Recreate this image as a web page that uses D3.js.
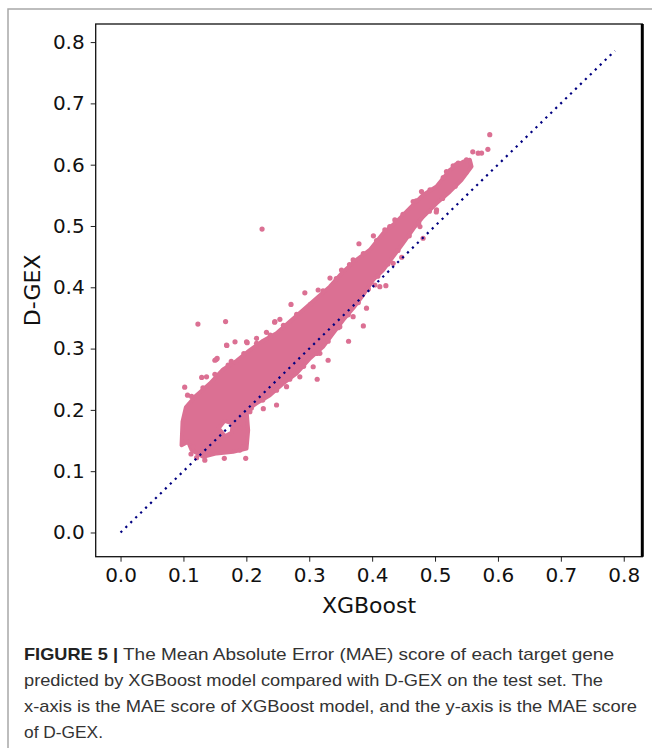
<!DOCTYPE html>
<html>
<head>
<meta charset="utf-8">
<script src="https://cdn.jsdelivr.net/npm/d3@7"></script>
<style>
  body { margin: 0; background: #fff; }
  .tick text, .lab { font-family: "DejaVu Sans", sans-serif; }
  .cap { font-family: "Liberation Sans", Arial, sans-serif; }
</style>
</head>
<body>
<div id="chart"></div>
<script>
// dense body of the cloud, outline (XGBoost MAE, D-GEX MAE)
const bodyX = [0.097, 0.0985, 0.1038, 0.1208, 0.142, 0.163, 0.1844, 0.2056, 0.2267, 0.248, 0.2692, 0.2903, 0.3116, 0.3327, 0.354, 0.375, 0.3963, 0.4175, 0.4388, 0.460, 0.481, 0.5024, 0.5235, 0.5447, 0.5553,
  0.558, 0.542, 0.5235, 0.5024, 0.481, 0.468, 0.4493, 0.4334, 0.4175, 0.4016, 0.3857, 0.3698, 0.354, 0.338, 0.322, 0.301, 0.2798, 0.2585, 0.2374, 0.2162, 0.2003,
  0.2029, 0.2003, 0.179, 0.1526, 0.1313, 0.1129, 0.1075];
const bodyY = [0.1425, 0.1806, 0.204, 0.224, 0.243, 0.266, 0.280, 0.2976, 0.3128, 0.325, 0.344, 0.363, 0.382, 0.401, 0.4255, 0.4446, 0.461, 0.488, 0.507, 0.529, 0.5507, 0.5643, 0.5915, 0.605, 0.608,
  0.597, 0.575, 0.556, 0.537, 0.515, 0.499, 0.472, 0.450, 0.428, 0.412, 0.3874, 0.3657, 0.3466, 0.325, 0.303, 0.284, 0.2596, 0.243, 0.224, 0.2106, 0.1997,
  0.167, 0.137, 0.1316, 0.129, 0.1234, 0.1344, 0.148];
// white gap inside the lower-left blob
const holeX = [0.156, 0.165, 0.178, 0.177, 0.166];
const holeY = [0.170, 0.182, 0.178, 0.163, 0.157];

// individual genes on the edge of the cloud and outliers
const geneX = [0.225, 0.123, 0.167, 0.587, 0.560, 0.584, 0.574, 0.379, 0.402, 0.333, 0.293, 0.271, 0.245, 0.232, 0.182, 0.169, 0.152, 0.129, 0.102, 0.1065,
  0.3126, 0.386, 0.3625, 0.330, 0.248, 0.227, 0.199, 0.165, 0.134, 0.4218, 0.391, 0.502, 0.476, 0.481, 0.447,
  0.1367, 0.1536, 0.1711, 0.2003, 0.2162, 0.2533, 0.3142, 0.3513, 0.3698, 0.4202, 0.4361, 0.4652, 0.4785, 0.5182, 0.5288, 0.5368, 0.550, 0.5686,
  0.5024, 0.4334, 0.4122, 0.4043, 0.3698, 0.3486, 0.3169, 0.3063, 0.285, 0.2639, 0.1897, 0.112, 0.121,
  0.150, 0.1685, 0.2013, 0.2162, 0.2453, 0.1154, 0.1313, 0.195, 0.1897, 0.2056,
  0.113, 0.131, 0.150, 0.176, 0.196, 0.238, 0.259, 0.280, 0.302, 0.322, 0.343, 0.364, 0.386, 0.407, 0.428, 0.449, 0.470, 0.492, 0.513, 0.534,
  0.549, 0.532, 0.512, 0.491, 0.474, 0.459, 0.441, 0.425, 0.409, 0.394, 0.378, 0.362, 0.346, 0.330, 0.312, 0.291, 0.269, 0.248, 0.226, 0.208];
const geneY = [0.495, 0.340, 0.344, 0.649, 0.621, 0.625, 0.619, 0.471, 0.484, 0.415, 0.391, 0.372, 0.343, 0.3265, 0.311, 0.305, 0.282, 0.253, 0.237, 0.224,
  0.250, 0.337, 0.312, 0.281, 0.208, 0.202, 0.121, 0.121, 0.118, 0.4026, 0.366, 0.523, 0.499, 0.480, 0.449,
  0.254, 0.284, 0.273, 0.311, 0.3167, 0.3477, 0.3956, 0.4282, 0.4446, 0.4936, 0.5099, 0.5398, 0.5561, 0.5888, 0.598, 0.6024, 0.6078, 0.6187,
  0.5262, 0.4391, 0.401, 0.4037, 0.352, 0.3357, 0.2922, 0.2704, 0.254, 0.2378, 0.1344, 0.128, 0.122,
  0.281, 0.3058, 0.3096, 0.3086, 0.344, 0.1398, 0.129, 0.1398, 0.1698, 0.197,
  0.222, 0.236, 0.258, 0.279, 0.292, 0.322, 0.338, 0.356, 0.372, 0.394, 0.414, 0.437, 0.455, 0.476, 0.499, 0.519, 0.541, 0.559, 0.579, 0.600,
  0.587, 0.565, 0.545, 0.524, 0.505, 0.484, 0.460, 0.438, 0.418, 0.397, 0.375, 0.355, 0.334, 0.312, 0.292, 0.271, 0.250, 0.232, 0.216, 0.203];

const diagonal = [0, 0.786];
const ticks = [0, 0.1, 0.2, 0.3, 0.4, 0.5, 0.6, 0.7, 0.8];

const captionHead = "FIGURE 5 |";
const caption = [
  "The Mean Absolute Error (MAE) score of each target gene",
  "predicted by XGBoost model compared with D-GEX on the test set. The",
  "x-axis is the MAE score of XGBoost model, and the y-axis is the MAE score",
  "of D-GEX."
];

const W = 652, H = 748;
const pLeft = 95.7, pRight = 642.3, pTop = 24, pBottom = 556.7;

const svg = d3.select("#chart").append("svg")
  .attr("width", W).attr("height", H);

// figure frame
svg.append("path")
  .attr("d", `M8,${H} L8,9 L${W},9`)
  .attr("fill", "none").attr("stroke", "#a8a8a8").attr("stroke-width", 1.5);

const x = d3.scaleLinear().domain([-0.0395, 0.8295]).range([pLeft, pRight]);
const y = d3.scaleLinear().domain([-0.0395, 0.8295]).range([pBottom, pTop]);

const pink = "#DB7093";

// cloud body
const ring = (xs, ys) => "M" + xs.map((v, i) => x(v) + "," + y(ys[i])).join("L") + "Z";
svg.append("path")
  .attr("d", ring(bodyX, bodyY) + ring(holeX, holeY))
  .attr("fill", pink).attr("fill-rule", "evenodd")
  .attr("stroke", pink).attr("stroke-width", 4).attr("stroke-linejoin", "round");

svg.append("g").selectAll("circle")
  .data(geneX)
  .enter().append("circle")
  .attr("cx", d => x(d))
  .attr("cy", (d, i) => y(geneY[i]))
  .attr("r", 2.6)
  .attr("fill", pink);

// y = x reference
svg.append("line")
  .attr("x1", x(diagonal[0])).attr("y1", y(diagonal[0]))
  .attr("x2", x(diagonal[1])).attr("y2", y(diagonal[1]))
  .attr("stroke", "#000080").attr("stroke-width", 2.2)
  .attr("stroke-dasharray", "2.2,4.7");

// axes
const fmt = d3.format(".1f");
const gx = svg.append("g")
  .attr("transform", `translate(0,${pBottom})`)
  .call(d3.axisBottom(x).tickValues(ticks).tickFormat(fmt).tickSize(5).tickPadding(6));
const gy = svg.append("g")
  .attr("transform", `translate(${pLeft},0)`)
  .call(d3.axisLeft(y).tickValues(ticks).tickFormat(fmt).tickSize(5).tickPadding(6));
[gx, gy].forEach(g => {
  g.select(".domain").remove();
  g.attr("font-family", null);
  g.selectAll("text").attr("font-size", 20).attr("fill", "#111");
  g.selectAll("line").attr("stroke", "#222");
});

svg.append("rect")
  .attr("x", pLeft).attr("y", pTop)
  .attr("width", pRight - pLeft).attr("height", pBottom - pTop)
  .attr("fill", "none").attr("stroke", "#111").attr("stroke-width", 1.3);
svg.append("line")
  .attr("x1", pRight).attr("x2", pRight).attr("y1", pTop).attr("y2", pBottom)
  .attr("stroke", "#000").attr("stroke-width", 3);

svg.append("text").attr("class", "lab")
  .attr("x", (pLeft + pRight) / 2).attr("y", 613)
  .attr("text-anchor", "middle").attr("font-size", 22).attr("fill", "#111")
  .text("XGBoost");
svg.append("text").attr("class", "lab")
  .attr("transform", `translate(40,${(pTop + pBottom) / 2}) rotate(-90)`)
  .attr("text-anchor", "middle").attr("font-size", 22).attr("fill", "#111")
  .text("D-GEX");

// caption
const lineEnds = [614, 603, 637, 103];
svg.append("text").attr("class", "cap")
  .attr("x", 24).attr("y", 660)
  .attr("font-size", 17).attr("font-weight", "bold").attr("fill", "#222")
  .attr("textLength", 94).attr("lengthAdjust", "spacingAndGlyphs")
  .text(captionHead);
caption.forEach((line, i) => {
  const x0 = i === 0 ? 123 : 24;
  svg.append("text").attr("class", "cap")
    .attr("x", x0).attr("y", 660 + i * 26)
    .attr("font-size", 17).attr("fill", "#333")
    .attr("textLength", lineEnds[i] - x0).attr("lengthAdjust", "spacingAndGlyphs")
    .text(line);
});
</script>
</body>
</html>
